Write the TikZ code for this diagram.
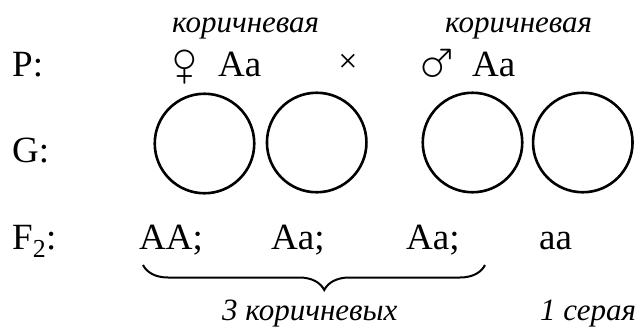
\documentclass[tikz,border=0pt]{standalone}
\usepackage{fontspec}
\usepackage{graphicx}
\usepackage{wasysym}
\setmainfont{Liberation Serif}
\usetikzlibrary{decorations.pathreplacing}
\tikzset{
  big/.style={font=\fontsize{37}{40}\selectfont, inner sep=0pt, anchor=base west},
  note/.style={font=\fontsize{31}{34}\selectfont\itshape, inner sep=0pt, anchor=base west},
  sex/.style={inner sep=0pt, anchor=center},
  gamete/.style={circle, draw, line width=2.6pt, minimum size=99.5pt, inner sep=0pt},
  cross/.style={font=\fontsize{34}{36}\selectfont, inner sep=0pt},
}
\begin{document}
\begin{tikzpicture}[x=1pt,y=-1pt]
\useasboundingbox (0,0) rectangle (641,333);
% parental row
\node[note] (phen1) at (172,32) {коричневая};
\node[note] (phen2) at (445,32) {коричневая};
\node[big] (P) at (12,76) {P:};
\node[sex] (fem) at (185,66.5) {\resizebox*{!}{33pt}{\female}};
\node[big] (genf) at (218,76) {Aa};
\node[cross] (x) at (348,63) {×};
\node[sex] (mal) at (438.5,61) {\resizebox*{!}{32pt}{\male}};
\node[big] (genm) at (472,76) {Aa};
% gametes
\node[big] (G) at (12,162) {G:};
\node[gamete] (g1) at (204.5,143.5) {};
\node[gamete] (g2) at (316.7,142.5) {};
\node[gamete] (g3) at (472.5,142.5) {};
\node[gamete] (g4) at (582.8,142.5) {};
% offspring
\node[big] (F) at (12,249) {F\textsubscript{2}:};
\node[big] (o1) at (139,249) {AA;};
\node[big] (o2) at (271,249) {Aa;};
\node[big] (o3) at (406,249) {Aa;};
\node[big] (o4) at (539,249) {aa};
\coordinate (bl) at (143,265);
\coordinate (br) at (485,265);
\draw[line width=2pt, decorate, decoration={brace, mirror, amplitude=25pt, aspect=0.53}] (bl) -- (br);
\node[note] (brown) at (222,320) {3 коричневых};
\node[note] (grey) at (540,320) {1 серая};
\end{tikzpicture}
\end{document}
